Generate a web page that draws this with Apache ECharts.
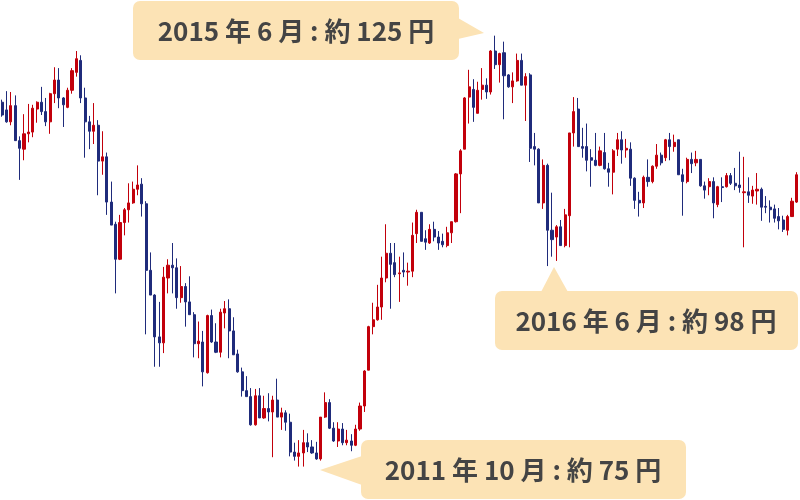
<!DOCTYPE html>
<html>
<head>
<meta charset="utf-8">
<script src="https://cdn.jsdelivr.net/npm/echarts@6/dist/echarts.min.js"></script>
<style>
html,body{margin:0;padding:0;background:#ffffff;}
#chart{width:800px;height:500px;}
</style>
</head>
<body>
<div id="chart"></div>
<script>
// USD/JPY monthly candles, 2006-01 .. 2021-03
const startYear = 2006, startMonth = 1;

const openPrices = [
118.1,117.2,115.8,117.7,113.6,112.6,114.4,114.6,117.3,118.1,
117.0,115.8,119.1,120.7,118.6,117.5,119.5,121.6,123.0,118.6,
115.8,114.7,115.4,111.2,111.7,106.4,103.8,99.7,104.0,105.5,
106.3,107.9,108.5,106.2,98.4,95.5,90.6,89.9,97.5,99.0,
98.7,95.2,96.5,94.7,93.2,89.8,90.0,86.4,93.1,90.0,
88.8,93.4,93.9,91.3,88.6,86.5,84.3,83.6,80.3,83.7,
81.1,82.2,81.8,83.2,81.2,81.7,80.6,77.1,76.6,77.0,
78.2,77.7,77.0,76.3,81.2,82.9,79.9,78.4,79.8,78.2,
78.4,77.9,79.8,82.5,86.7,91.8,92.6,94.1,97.5,100.4,
99.3,98.0,98.4,98.2,98.3,102.7,105.2,102.1,101.6,103.2,
102.3,101.8,101.3,102.8,104.1,109.7,112.6,118.7,119.6,116.8,
119.6,120.1,119.3,124.1,122.5,123.9,121.3,119.9,120.6,123.0,
120.1,121.3,112.9,112.6,106.3,110.7,103.1,102.3,103.5,101.3,
104.8,114.5,117.3,112.9,112.9,111.6,111.3,110.7,112.2,110.3,
109.9,112.6,113.7,112.5,112.6,109.2,106.6,106.3,109.3,108.8,
110.6,111.9,111.6,113.7,112.9,113.7,109.6,108.8,111.4,111.0,
111.4,108.3,108.2,108.8,106.1,108.2,108.2,109.5,108.6,108.4,
107.5,107.6,107.1,107.7,107.9,105.9,105.8,105.6,104.7,104.3,
103.1,104.7,106.4
];

const closePrices = [
116.6,115.8,117.7,113.6,112.7,114.4,114.6,117.4,118.1,117.0,
115.8,119.1,120.7,118.6,117.8,119.5,121.8,123.2,118.6,115.8,
114.7,115.4,111.2,111.7,106.4,103.7,99.7,104.0,105.5,106.3,
107.9,108.4,106.2,98.4,95.5,90.6,89.9,97.6,99.0,98.7,
95.2,96.5,94.7,93.2,89.8,90.1,86.5,93.1,90.0,88.8,
93.5,93.9,91.3,88.5,86.5,84.3,83.6,80.3,83.7,81.1,
82.2,81.8,83.2,81.2,81.7,80.6,77.1,76.6,77.0,78.2,
77.7,77.0,76.3,81.2,82.9,79.9,78.4,79.8,78.2,78.5,
77.9,79.8,82.5,86.6,91.8,92.6,94.1,97.5,100.4,99.1,
97.9,98.1,98.2,98.3,102.5,105.2,101.8,101.7,103.2,102.3,
101.6,101.4,102.8,104.1,109.7,112.4,118.6,119.9,117.5,119.5,
120.1,119.3,124.1,122.5,123.8,121.2,119.9,120.6,123.0,120.1,
121.1,112.7,112.6,106.3,110.7,103.1,102.0,103.5,101.3,104.9,
114.5,117.0,112.9,112.7,111.3,111.3,110.7,112.4,110.3,109.9,
112.4,113.7,112.5,112.7,109.2,106.6,106.3,109.3,108.8,110.6,
111.9,111.0,113.7,112.9,113.4,109.6,108.8,111.4,110.9,111.4,
108.3,107.8,108.8,106.3,108.2,108.1,109.5,108.6,108.3,108.1,
107.6,107.2,107.8,107.9,105.8,105.8,105.5,104.5,104.2,103.2,
104.7,106.5,109.6
];

const lowPrices = [
116.4,115.7,115.4,113.6,109.0,111.3,113.4,114.0,115.7,116.6,
115.3,114.4,118.0,117.4,115.2,117.4,119.1,121.1,118.0,111.6,
112.6,113.2,107.2,109.6,104.9,103.7,95.7,99.6,102.5,104.0,
106.2,107.2,104.7,90.9,95.5,87.1,87.1,88.7,95.7,95.7,
93.9,94.6,91.8,93.2,88.2,88.1,84.8,86.3,89.9,88.7,
88.2,91.6,88.1,88.5,86.4,83.6,83.6,80.2,80.2,81.1,
81.0,80.7,76.5,81.2,79.7,79.6,76.6,76.1,75.4,75.4,
77.1,76.9,76.2,76.1,81.1,79.8,78.3,77.7,77.9,77.9,
77.2,77.8,79.6,81.8,86.7,90.9,92.5,92.6,97.0,93.9,
97.6,94.7,97.6,96.6,97.6,101.6,101.8,100.8,101.5,101.8,
100.8,101.1,101.1,101.6,104.0,105.1,112.6,115.6,115.8,116.8,
118.4,118.5,119.0,122.0,120.4,116.1,119.8,118.0,120.5,120.1,
115.9,111.1,110.7,106.3,105.6,98.9,100.0,99.5,101.3,101.1,
101.1,112.9,112.9,111.6,110.0,108.2,110.6,110.6,110.2,108.2,
107.3,111.8,110.9,111.6,108.3,105.6,104.7,105.7,108.2,108.6,
110.3,110.7,111.2,111.3,112.3,109.6,104.8,108.6,109.8,110.6,
108.2,106.8,107.2,104.5,105.8,106.4,108.1,108.4,107.8,107.5,
101.1,106.3,106.2,106.1,104.2,105.1,104.0,104.0,103.2,102.9,
102.5,104.7,106.3
];

const highPrices = [
118.4,119.4,119.3,118.9,114.1,116.7,117.9,117.8,118.2,119.9,
118.6,119.2,122.2,122.1,118.7,119.8,122.1,124.1,123.6,119.8,
116.5,118.0,116.0,114.7,112.2,108.8,104.1,104.9,105.7,108.6,
108.8,110.7,109.2,106.5,100.5,95.6,94.7,98.8,99.7,101.6,
99.8,98.9,96.9,97.7,93.5,92.4,91.3,93.2,93.8,92.2,
93.9,94.8,95.0,92.9,89.1,87.0,86.0,84.6,84.5,84.6,
83.7,84.0,83.7,85.7,82.3,82.0,81.6,78.2,78.5,79.7,
79.3,78.5,78.3,81.2,84.1,83.3,80.6,80.6,80.5,79.7,
79.2,80.3,82.9,86.7,91.9,94.6,96.7,100.0,103.8,101.6,
101.6,100.0,100.5,99.3,104.0,105.5,105.2,103.1,103.8,104.1,
103.0,102.7,103.5,104.1,109.8,112.6,118.7,121.9,120.8,120.5,
122.1,120.9,124.2,125.9,123.9,125.2,121.4,121.6,123.8,123.8,
121.5,121.5,114.5,112.7,111.4,110.9,107.5,103.7,104.3,105.6,
114.5,118.7,118.6,115.1,115.6,112.6,114.5,112.9,114.5,111.0,
112.6,114.5,114.7,113.8,113.4,109.3,107.6,109.5,111.4,110.7,
113.2,112.2,113.8,114.5,114.3,113.7,110.3,111.6,112.2,112.4,
111.4,108.8,109.2,109.3,108.3,109.3,109.8,109.8,110.4,112.3,
111.7,109.3,108.3,109.8,108.1,107.1,106.6,106.1,105.7,104.8,
104.9,106.9,109.9
];

const calloutTexts = [
  '2015 年 6 月 : 約 125 円',
  '2016 年 6 月 : 約 98 円',
  '2011 年 10 月 : 約 75 円'
];

const months = openPrices.map(function (_, i) {
  const m = startMonth - 1 + i;
  const y = startYear + Math.floor(m / 12);
  const mm = (m % 12) + 1;
  return y + '-' + (mm < 10 ? '0' + mm : mm);
});

const candleData = openPrices.map(function (o, i) {
  return [o, closePrices[i], lowPrices[i], highPrices[i]];
});

const UP = '#c2000b';
const DOWN = '#1f2b7b';
const BOX = '#fce3b5';
const TXT = '#444444';
const FONT = "'Noto Sans CJK JP', 'Noto Sans', sans-serif";

const chart = echarts.init(document.getElementById('chart'), null, {renderer: 'canvas'});

function box(x, y, w, h, tail, text, cx, cy) {
  return [
    {type: 'rect', shape: {x: x, y: y, width: w, height: h, r: 7}, style: {fill: BOX}, z: 10},
    {type: 'polygon', shape: {points: tail}, style: {fill: BOX}, z: 10},
    {type: 'text', x: cx, y: cy, z: 11,
      style: {text: text, fill: TXT, font: 'bold 26px ' + FONT, align: 'center', verticalAlign: 'middle'}}
  ];
}

const graphics = [].concat(
  box(133, 1, 326, 59, [[458, 18], [484, 33], [458, 39]], calloutTexts[0], 296, 31),
  box(495, 291, 303, 59, [[541, 292], [554, 267], [568, 292]], calloutTexts[1], 646, 321),
  box(361, 440, 325, 59, [[362, 456], [320, 470], [362, 485]], calloutTexts[2], 523, 470)
);

chart.setOption({
  animation: false,
  backgroundColor: '#ffffff',
  grid: {left: -3.87, right: 1.5, top: 0, bottom: 0},
  xAxis: {
    type: 'category', data: months, boundaryGap: true, show: false
  },
  yAxis: {
    type: 'value', min: 71.485, max: 130.08, show: false,
    splitLine: {show: false}
  },
  series: [{
    type: 'candlestick',
    data: candleData,
    barWidth: 2.6,
    itemStyle: {
      color: UP, color0: DOWN,
      borderColor: UP, borderColor0: DOWN,
      borderWidth: 1
    }
  }],
  graphic: graphics
});
</script>
</body>
</html>
